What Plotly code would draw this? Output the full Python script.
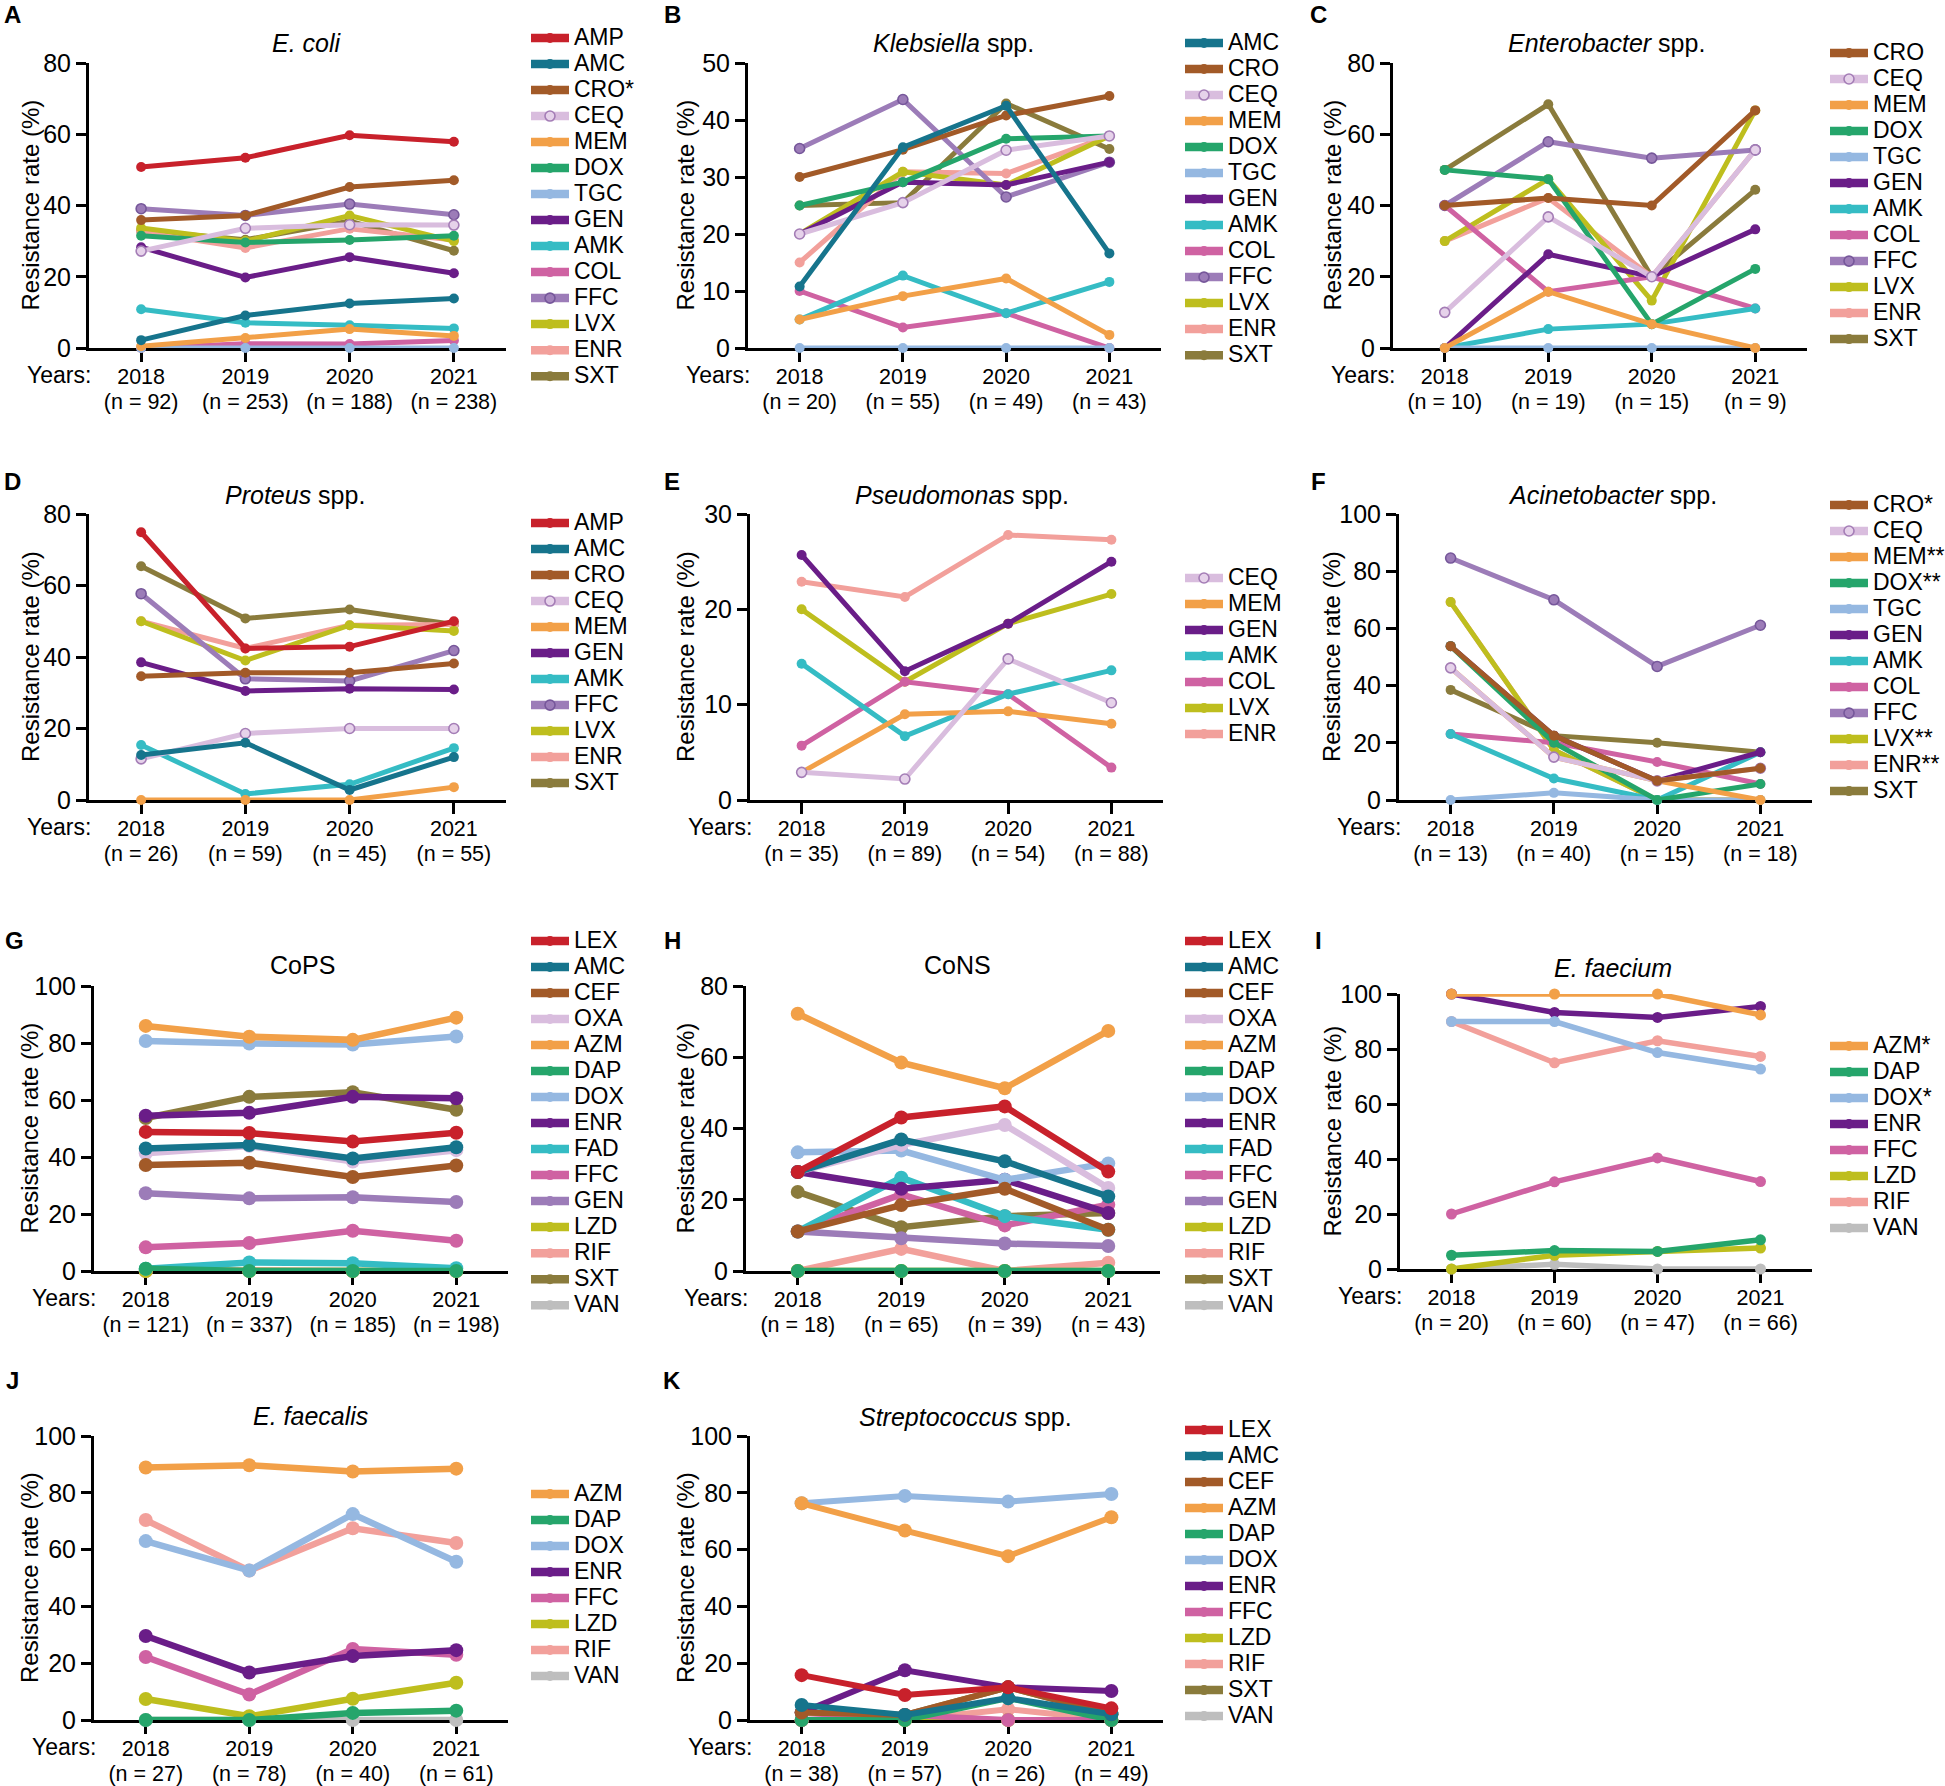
import plotly.graph_objects as go

W, H = 1945, 1786
FONT = "Liberation Sans, Arial, sans-serif"
YEARS = ["2018", "2019", "2020", "2021"]

# ---------------- data ----------------
ECOLI_N = [92, 253, 188, 238]
ECOLI_DRUGS = ["AMP", "AMC", "CRO*", "CEQ", "MEM", "DOX", "TGC", "GEN", "AMK", "COL", "FFC", "LVX", "ENR", "SXT"]
ECOLI_RATES = [
    [50.8, 53.4, 59.7, 57.9], [2.2, 9.1, 12.5, 13.9], [35.9, 37.2, 45.2, 47.1], [27.2, 33.6, 34.6, 34.5],
    [0.5, 2.8, 5.3, 3.4], [31.5, 29.6, 30.3, 31.5], [0, 0, 0, 0], [28.3, 19.8, 25.5, 21.0],
    [10.9, 7.1, 6.4, 5.5], [0, 1.2, 1.1, 2.1], [39.1, 37.2, 40.4, 37.4], [33.7, 30.0, 37.2, 30.0],
    [32.6, 28.1, 33.5, 30.3], [33.0, 30.4, 35.6, 27.3],
]

KLEB_N = [20, 55, 49, 43]
KLEB_DRUGS = ["AMC", "CRO", "CEQ", "MEM", "DOX", "TGC", "GEN", "AMK", "COL", "FFC", "LVX", "ENR", "SXT"]
KLEB_RATES = [
    [10.8, 35.2, 42.5, 16.6], [30.0, 34.8, 40.8, 44.2], [20.0, 25.5, 34.7, 37.2], [5.0, 9.1, 12.2, 2.3],
    [25.0, 29.1, 36.7, 37.2], [0, 0, 0, 0], [20.0, 29.1, 28.6, 32.6], [5.0, 12.7, 6.1, 11.6],
    [10.0, 3.6, 6.1, 0], [35.0, 43.6, 26.5, 32.6], [20.0, 30.9, 28.6, 37.2], [15.0, 30.9, 30.6, 37.2],
    [25.0, 25.5, 42.9, 34.9],
]

ENTERO_N = [10, 19, 15, 9]
ENTERO_DRUGS = ["CRO", "CEQ", "MEM", "DOX", "TGC", "GEN", "AMK", "COL", "FFC", "LVX", "ENR", "SXT"]
ENTERO_RATES = [
    [40.0, 42.1, 40.0, 66.7], [10.0, 36.8, 20.0, 55.6], [0, 15.8, 6.7, 0], [50.0, 47.4, 6.7, 22.2],
    [0, 0, 0, 0], [0, 26.3, 20.0, 33.3], [0, 5.3, 6.7, 11.1], [40.0, 15.8, 20.0, 11.1],
    [40.0, 57.9, 53.3, 55.6], [30.0, 47.4, 13.3, 66.7], [30.0, 42.1, 20.0, 55.6], [50.0, 68.4, 20.0, 44.4],
]

PROTEUS_N = [26, 59, 45, 55]
PROTEUS_DRUGS = ["AMP", "AMC", "CRO", "CEQ", "MEM", "GEN", "AMK", "FFC", "LVX", "ENR", "SXT"]
PROTEUS_RATES = [
    [74.9, 42.4, 42.9, 50.0], [12.6, 16.0, 2.8, 12.0], [34.6, 35.6, 35.6, 38.2], [11.5, 18.6, 20.0, 20.0],
    [0, 0, 0, 3.6], [38.5, 30.5, 31.1, 30.9], [15.4, 1.7, 4.4, 14.5], [57.7, 33.9, 33.3, 41.8],
    [50.0, 39.0, 48.9, 47.3], [50.0, 42.4, 48.9, 49.1], [65.4, 50.8, 53.3, 49.1],
]

PSEUDO_N = [35, 89, 54, 88]
PSEUDO_DRUGS = ["CEQ", "MEM", "GEN", "AMK", "COL", "LVX", "ENR"]
PSEUDO_RATES = [
    [2.9, 2.2, 14.8, 10.2], [2.9, 9.0, 9.3, 8.0], [25.7, 13.5, 18.5, 25.0], [14.3, 6.7, 11.1, 13.6],
    [5.7, 12.4, 11.1, 3.4], [20.0, 12.4, 18.5, 21.6], [22.9, 21.3, 27.8, 27.3],
]

ACINETO_N = [13, 40, 15, 18]
ACINETO_DRUGS = ["CRO*", "CEQ", "MEM**", "DOX**", "TGC", "GEN", "AMK", "COL", "FFC", "LVX**", "ENR**", "SXT"]
ACINETO_RATES = [
    [53.8, 22.5, 6.7, 11.1], [46.2, 15.0, 6.7, 11.1], [46.2, 15.0, 6.7, 0], [53.8, 20.0, 0, 5.6],
    [0, 2.5, 0, 0], [53.8, 22.5, 6.7, 16.7], [23.1, 7.5, 0, 16.7], [23.1, 20.0, 13.3, 5.6],
    [84.6, 70.0, 46.7, 61.1], [69.2, 17.5, 0, 0], [69.2, 17.5, 0, 0], [38.5, 22.5, 20.0, 16.7],
]

COPS_N = [121, 337, 185, 198]
COPS_DRUGS = ["LEX", "AMC", "CEF", "OXA", "AZM", "DAP", "DOX", "ENR", "FAD", "FFC", "GEN", "LZD", "RIF", "SXT", "VAN"]
COPS_RATES = [
    [48.8, 48.4, 45.4, 48.5], [43.0, 44.2, 39.5, 43.4], [37.2, 38.0, 33.0, 37.0], [41.3, 43.9, 38.4, 42.4],
    [86.0, 82.2, 81.1, 88.9], [0.8, 0, 0, 0], [80.7, 79.8, 79.5, 82.3], [54.5, 55.5, 61.1, 60.6],
    [0.8, 3.0, 2.7, 1.0], [8.3, 9.8, 14.1, 10.6], [27.3, 25.5, 25.9, 24.2], [0, 0, 0, 0],
    [0, 0.3, 0, 0], [53.7, 61.1, 62.7, 56.6], [0, 0, 0, 0],
]

CONS_N = [18, 65, 39, 43]
CONS_DRUGS = ["LEX", "AMC", "CEF", "OXA", "AZM", "DAP", "DOX", "ENR", "FAD", "FFC", "GEN", "LZD", "RIF", "SXT", "VAN"]
CONS_RATES = [
    [27.8, 43.1, 46.2, 27.9], [27.8, 36.9, 30.8, 20.9], [11.1, 18.5, 23.1, 11.6], [27.8, 35.4, 41.0, 23.3],
    [72.2, 58.5, 51.3, 67.4], [0, 0, 0, 0], [33.3, 33.8, 25.6, 30.2], [27.8, 23.1, 25.6, 16.3],
    [11.1, 26.2, 15.4, 11.6], [11.1, 21.5, 12.8, 18.6], [11.1, 9.2, 7.7, 7.0], [0, 0, 0, 0],
    [0, 6.2, 0, 2.3], [22.2, 12.3, 15.4, 16.3], [0, 0, 0, 0],
]

FAECIUM_N = [20, 60, 47, 66]
FAECIUM_DRUGS = ["AZM*", "DAP", "DOX*", "ENR", "FFC", "LZD", "RIF", "VAN"]
FAECIUM_RATES = [
    [100, 100, 100, 92.4], [5.0, 6.7, 6.4, 10.6], [90.0, 90.0, 78.7, 72.7], [100, 93.3, 91.5, 95.5],
    [20.0, 31.7, 40.4, 31.8], [0, 5.0, 6.4, 7.6], [90.0, 75.0, 83.0, 77.3], [0, 1.7, 0, 0],
]

FAECALIS_N = [27, 78, 40, 61]
FAECALIS_DRUGS = ["AZM", "DAP", "DOX", "ENR", "FFC", "LZD", "RIF", "VAN"]
FAECALIS_RATES = [
    [88.9, 89.7, 87.5, 88.5], [0, 0, 2.5, 3.3], [63.0, 52.6, 72.5, 55.7], [29.6, 16.7, 22.5, 24.6],
    [22.2, 9.0, 25.0, 23.0], [7.4, 1.3, 7.5, 13.1], [70.4, 52.6, 67.5, 62.3], [0, 0, 0, 0],
]

STREP_N = [38, 57, 26, 49]
STREP_DRUGS = ["LEX", "AMC", "CEF", "AZM", "DAP", "DOX", "ENR", "FFC", "LZD", "RIF", "SXT", "VAN"]
STREP_RATES = [
    [15.8, 8.8, 11.5, 4.1], [5.3, 1.8, 7.7, 2.0], [2.6, 1.8, 11.5, 2.0], [76.3, 66.7, 57.7, 71.4],
    [0, 0, 7.7, 0], [76.3, 78.9, 76.9, 79.6], [2.6, 17.5, 11.5, 10.2], [0, 1.8, 0, 0],
    [0, 0, 0, 0], [0, 0, 3.8, 0], [2.6, 1.8, 11.5, 2.0], [0, 0, 0, 0],
]

# ---------------- styles ----------------
RED, TEAL, BROWN, LILAC, ORANGE = "#C8212B", "#16748C", "#A25A28", "#D9BDDE", "#F2A048"
GREEN, LBLUE, DPURPLE, CYAN, PINK = "#25A56B", "#95B8E1", "#6A1D88", "#35BCC4", "#CF62A2"
MPURPLE, YGREEN, SALMON, OLIVE, GREY = "#9C7CB8", "#BEBE1E", "#F2A09B", "#8A7B3C", "#BEBEBE"

GN_COLORS = {"AMP": RED, "AMC": TEAL, "CRO": BROWN, "CEQ": LILAC, "MEM": ORANGE, "DOX": GREEN,
             "TGC": LBLUE, "GEN": DPURPLE, "AMK": CYAN, "COL": PINK, "FFC": MPURPLE, "LVX": YGREEN,
             "ENR": SALMON, "SXT": OLIVE}
GP_COLORS = {"LEX": RED, "AMC": TEAL, "CEF": BROWN, "OXA": LILAC, "AZM": ORANGE, "DAP": GREEN,
             "DOX": LBLUE, "ENR": DPURPLE, "FAD": CYAN, "FFC": PINK, "GEN": MPURPLE, "LZD": YGREEN,
             "RIF": SALMON, "SXT": OLIVE, "VAN": GREY}
GN_OUTLINED = {"CEQ": ("#E6D2EA", "#A47DB6"), "FFC": (MPURPLE, "#76579A")}

PANELS = [
    dict(letter="A", title="<i>E. coli</i>", n=ECOLI_N, drugs=ECOLI_DRUGS, rates=ECOLI_RATES, gram="neg",
         ymax=80, dtick=20, px=(89, 506), py=(63, 348), title_xy=(307, 43), letter_xy=(12, 15),
         ytitle_x=30, legend_xy=(531, 38), lw=5, ms=10),
    dict(letter="B", title="<i>Klebsiella</i> spp.", n=KLEB_N, drugs=KLEB_DRUGS, rates=KLEB_RATES, gram="neg",
         ymax=50, dtick=10, px=(748, 1161), py=(63, 348), title_xy=(953, 43), letter_xy=(672, 15),
         ytitle_x=685, legend_xy=(1185, 43), lw=5, ms=10),
    dict(letter="C", title="<i>Enterobacter</i> spp.", n=ENTERO_N, drugs=ENTERO_DRUGS, rates=ENTERO_RATES, gram="neg",
         ymax=80, dtick=20, px=(1393, 1807), py=(63, 348), title_xy=(1606, 43), letter_xy=(1318, 15),
         ytitle_x=1332, legend_xy=(1830, 53), lw=5, ms=10),
    dict(letter="D", title="<i>Proteus</i> spp.", n=PROTEUS_N, drugs=PROTEUS_DRUGS, rates=PROTEUS_RATES, gram="neg",
         ymax=80, dtick=20, px=(89, 506), py=(514, 800), title_xy=(295, 495), letter_xy=(12, 481),
         ytitle_x=30, legend_xy=(531, 523), lw=5, ms=10),
    dict(letter="E", title="<i>Pseudomonas</i> spp.", n=PSEUDO_N, drugs=PSEUDO_DRUGS, rates=PSEUDO_RATES, gram="neg",
         ymax=30, dtick=10, px=(750, 1163), py=(514, 800), title_xy=(962, 495), letter_xy=(672, 481),
         ytitle_x=685, legend_xy=(1185, 578), lw=5, ms=10),
    dict(letter="F", title="<i>Acinetobacter</i> spp.", n=ACINETO_N, drugs=ACINETO_DRUGS, rates=ACINETO_RATES, gram="neg",
         ymax=100, dtick=20, px=(1399, 1812), py=(514, 800), title_xy=(1612, 495), letter_xy=(1318, 481),
         ytitle_x=1331, legend_xy=(1830, 505), lw=5, ms=10),
    dict(letter="G", title="CoPS", n=COPS_N, drugs=COPS_DRUGS, rates=COPS_RATES, gram="pos",
         ymax=100, dtick=20, px=(94, 508), py=(986, 1271), title_xy=(302, 965), letter_xy=(14, 940),
         ytitle_x=29, legend_xy=(531, 941), lw=6.5, ms=14),
    dict(letter="H", title="CoNS", n=CONS_N, drugs=CONS_DRUGS, rates=CONS_RATES, gram="pos",
         ymax=80, dtick=20, px=(746, 1160), py=(986, 1271), title_xy=(957, 965), letter_xy=(672, 940),
         ytitle_x=685, legend_xy=(1185, 941), lw=6.5, ms=14),
    dict(letter="I", title="<i>E. faecium</i>", n=FAECIUM_N, drugs=FAECIUM_DRUGS, rates=FAECIUM_RATES, gram="pos",
         ymax=100, dtick=20, px=(1400, 1812), py=(994, 1269), title_xy=(1613, 968), letter_xy=(1318, 940),
         ytitle_x=1332, legend_xy=(1830, 1046), lw=5.5, ms=11),
    dict(letter="J", title="<i>E. faecalis</i>", n=FAECALIS_N, drugs=FAECALIS_DRUGS, rates=FAECALIS_RATES, gram="pos",
         ymax=100, dtick=20, px=(94, 508), py=(1436, 1720), title_xy=(310, 1416), letter_xy=(12, 1380),
         ytitle_x=29, legend_xy=(531, 1494), lw=6.5, ms=14),
    dict(letter="K", title="<i>Streptococcus</i> spp.", n=STREP_N, drugs=STREP_DRUGS, rates=STREP_RATES, gram="pos",
         ymax=100, dtick=20, px=(750, 1163), py=(1436, 1720), title_xy=(965, 1417), letter_xy=(672, 1380),
         ytitle_x=685, legend_xy=(1185, 1430), lw=6, ms=14),
]

LEG_FS = 17.7        # controls legend row pitch (about 26 px)
LEG_TEXT_PX = 23     # visible legend text size
TICK_FS = 18.6       # controls x tick label line pitch (about 24 px)
TICK_TEXT_PX = 21.5


def fx(p):
    return p / W


def fy(p):
    return 1 - p / H


fig = go.Figure()
layout = dict(
    width=W, height=H, margin=dict(l=0, r=0, t=0, b=0, pad=0, autoexpand=False),
    paper_bgcolor="white", plot_bgcolor="rgba(0,0,0,0)", showlegend=True,
    font=dict(family=FONT, color="black"), hovermode=False,
)
annotations = []

for i, P in enumerate(PANELS, start=1):
    xs = "x" if i == 1 else f"x{i}"
    ys = "y" if i == 1 else f"y{i}"
    xk = "xaxis" if i == 1 else f"xaxis{i}"
    yk = "yaxis" if i == 1 else f"yaxis{i}"
    lk = "legend" if i == 1 else f"legend{i}"
    pal = GN_COLORS if P["gram"] == "neg" else GP_COLORS

    def style(drug):
        base = drug.rstrip("*")
        col = pal[base]
        if P["gram"] == "neg" and base in GN_OUTLINED:
            fill, edge = GN_OUTLINED[base]
            return col, fill, edge, 1.6
        return col, col, col, 0

    # data traces: first listed drawn on top (reverse drawing order)
    for drug, vals in reversed(list(zip(P["drugs"], P["rates"]))):
        col, fill, edge, ew = style(drug)
        fig.add_trace(go.Scatter(
            x=YEARS, y=vals, mode="lines+markers", name=drug, showlegend=False,
            line=dict(color=col, width=P["lw"]),
            marker=dict(size=P["ms"], color=fill, line=dict(color=edge, width=ew)),
            xaxis=xs, yaxis=ys, cliponaxis=False, hoverinfo="skip"))
    # legend entries
    for drug in P["drugs"]:
        col, fill, edge, ew = style(drug)
        fig.add_trace(go.Scatter(
            x=[None], y=[None], mode="lines+markers",
            name=f'<span style="font-size:{LEG_TEXT_PX}px">{drug}</span>',
            showlegend=True, legend=lk,
            line=dict(color=col, width=8.5),
            marker=dict(size=10, color=fill, line=dict(color=edge, width=ew)),
            xaxis=xs, yaxis=ys, hoverinfo="skip"))

    x0, x1 = P["px"]
    y0, y1 = P["py"]
    ticktext = [f'<span style="font-size:{TICK_TEXT_PX}px">{yr}</span><br>'
                f'<span style="font-size:{TICK_TEXT_PX}px">(n = {n})</span>'
                for yr, n in zip(YEARS, P["n"])]
    layout[xk] = dict(
        domain=[fx(x0), fx(x1)], anchor=ys, type="category", range=[-0.5, 3.5],
        tickmode="array", tickvals=YEARS, ticktext=ticktext, tickangle=0,
        showline=True, linecolor="black", linewidth=3, ticks="outside", ticklen=11, tickwidth=3,
        tickcolor="black", showgrid=False, zeroline=False, layer="below traces", fixedrange=True,
        ticklabelstandoff=0,
        tickfont=dict(family=FONT, size=TICK_FS, color="black"))
    layout[yk] = dict(
        domain=[fy(y1), fy(y0)], anchor=xs, range=[0, P["ymax"]],
        tickmode="array", tickvals=list(range(0, P["ymax"] + 1, P["dtick"])),
        showline=True, linecolor="black", linewidth=3, ticks="outside", ticklen=10, tickwidth=3,
        tickcolor="black", showgrid=False, zeroline=False, layer="below traces", fixedrange=True,
        tickfont=dict(family=FONT, size=25, color="black"))
    lx, ly = P["legend_xy"]
    layout[lk] = dict(
        x=fx(lx - 5), y=fy(ly - 18), xanchor="left", yanchor="top", bgcolor="rgba(0,0,0,0)",
        borderwidth=0, font=dict(family=FONT, size=LEG_FS, color="black"), tracegroupgap=0,
        itemwidth=38, traceorder="normal", itemclick=False, itemdoubleclick=False)

    tx, ty = P["title_xy"]
    annotations.append(dict(text=P["title"], x=fx(tx), y=fy(ty), xref="paper", yref="paper",
                            xanchor="center", yanchor="middle", showarrow=False,
                            font=dict(family=FONT, size=25, color="black")))
    ax_, ay_ = P["letter_xy"]
    annotations.append(dict(text=f"<b>{P['letter']}</b>", x=fx(ax_), y=fy(ay_), xref="paper", yref="paper",
                            xanchor="center", yanchor="middle", showarrow=False,
                            font=dict(family=FONT, size=24, color="black")))
    annotations.append(dict(text="Resistance rate (%)", textangle=-90, x=fx(P["ytitle_x"]),
                            y=fy((y0 + y1) / 2), xref="paper", yref="paper",
                            xanchor="center", yanchor="middle", showarrow=False,
                            font=dict(family=FONT, size=24, color="black")))
    annotations.append(dict(text="Years:", x=fx(x0 + 4), y=fy(y1 + 27), xref="paper", yref="paper",
                            xanchor="right", yanchor="middle", showarrow=False,
                            font=dict(family=FONT, size=23, color="black")))

layout["annotations"] = annotations
fig.update_layout(**layout)

fig.write_html("out.html", config={"displayModeBar": False, "staticPlot": True},
               post_script="document.body.style.margin='0px';")
